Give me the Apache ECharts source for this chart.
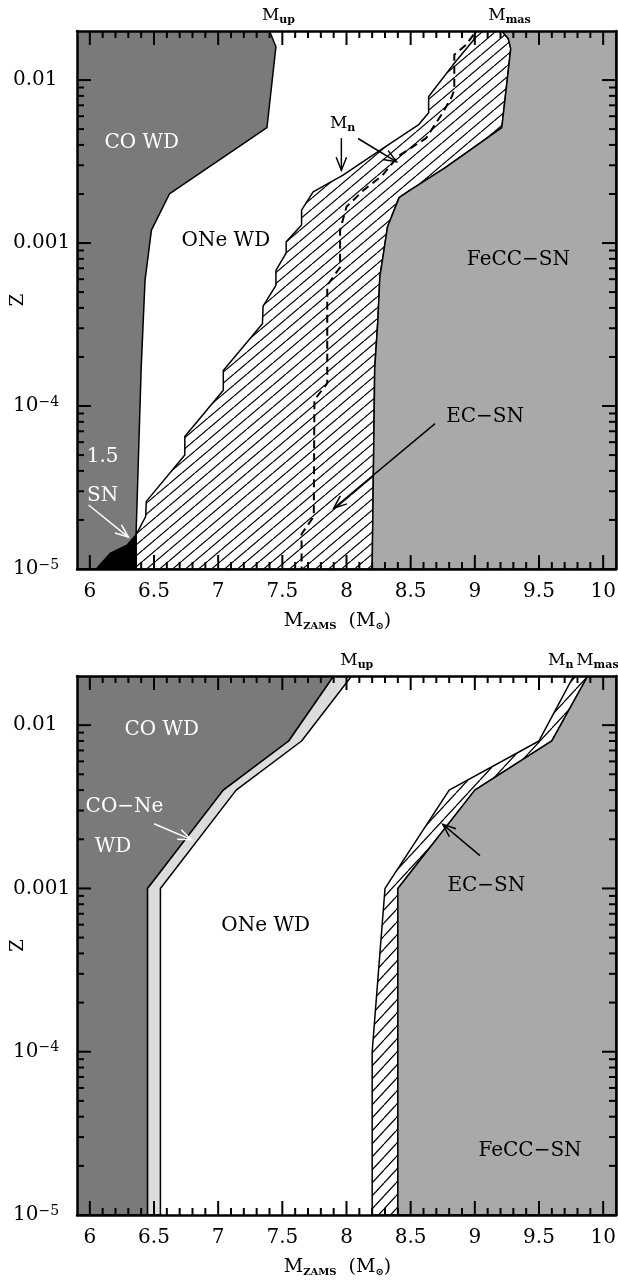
<!DOCTYPE html>
<html><head><meta charset="utf-8">
<script src="https://cdn.jsdelivr.net/npm/echarts@6/dist/echarts.min.js"></script>
<style>html,body{margin:0;padding:0;background:#fff}#c{width:618px;height:1280px}</style>
</head><body><div id="c"></div>
<script>
// ---------- axes ----------
const xMin = 5.9, xMax = 10.1, zMin = 1e-5, zMax = 0.02;
const xMajorTicks = [6, 6.5, 7, 7.5, 8, 8.5, 9, 9.5, 10];
const xMinorTicks = [6.1, 6.2, 6.3, 6.4, 6.6, 6.7, 6.8, 6.9, 7.1, 7.2, 7.3, 7.4, 7.6, 7.7, 7.8, 7.9,
  8.1, 8.2, 8.3, 8.4, 8.6, 8.7, 8.8, 8.9, 9.1, 9.2, 9.3, 9.4, 9.6, 9.7, 9.8, 9.9];
const zMajorTicks = [1e-5, 1e-4, 1e-3, 1e-2];
const zMinorTicks = [2e-5, 3e-5, 4e-5, 5e-5, 6e-5, 7e-5, 8e-5, 9e-5, 2e-4, 3e-4, 4e-4, 5e-4, 6e-4, 7e-4, 8e-4, 9e-4,
  2e-3, 3e-3, 4e-3, 5e-3, 6e-3, 7e-3, 8e-3, 9e-3];

// ---------- top panel boundaries [M_ZAMS, Z] ----------
const topMup = [[7.40, 0.02], [7.45, 0.016], [7.38, 0.0051], [6.62, 0.002], [6.48, 0.0012], [6.43, 0.00059], [6.40, 0.00017], [6.36, 1.6e-5], [6.36, 1e-5]];
const topSN15 = [[6.05, 1e-5], [6.16, 1.25e-5], [6.29, 1.4e-5], [6.36, 1.62e-5], [6.36, 1e-5]];
const topECLow = [[9.01, 0.02], [8.99, 0.0176], [8.83, 0.0124], [8.66, 0.0083], [8.64, 0.0079], [8.64, 0.0063], [8.56, 0.0053],
  [8.26, 0.0037], [7.97, 0.0026], [7.74, 0.00206], [7.65, 0.00159], [7.65, 0.00129], [7.53, 0.00102], [7.53, 0.00087],
  [7.45, 0.00068], [7.45, 0.00055], [7.35, 0.00041], [7.345, 0.00032], [7.04, 0.000165], [7.04, 0.000125],
  [6.74, 0.000065], [6.74, 0.00005], [6.44, 0.000026], [6.435, 0.000021], [6.36, 0.0000162], [6.36, 1e-5]];
const topMmas = [[9.21, 0.02], [9.26, 0.018], [9.28, 0.0156], [9.21, 0.0051], [8.77, 0.0029], [8.49, 0.0021], [8.41, 0.0019],
  [8.32, 0.00126], [8.26, 0.00062], [8.245, 0.00034], [8.22, 0.00017], [8.20, 1e-5]];
const topMn = [[8.99, 0.019], [8.93, 0.0164], [8.84, 0.0143], [8.84, 0.0087], [8.82, 0.0079], [8.75, 0.0063], [8.62, 0.0044],
  [8.40, 0.0034], [8.28, 0.0026], [8.13, 0.0021], [8.0, 0.00167], [7.95, 0.0012], [7.95, 0.00071], [7.85, 0.00055],
  [7.85, 0.000138], [7.75, 0.000109], [7.745, 0.000021], [7.65, 0.0000164], [7.65, 1e-5]];

// ---------- bottom panel boundaries ----------
const botMupLeft = [[7.90, 0.02], [7.55, 0.008], [7.04, 0.004], [6.45, 0.001], [6.45, 1e-5]];
const botMupRight = [[8.04, 0.02], [7.65, 0.008], [7.14, 0.004], [6.55, 0.001], [6.55, 1e-5]];
const botMn = [[9.77, 0.02], [9.50, 0.008], [8.80, 0.004], [8.30, 0.001], [8.20, 1e-4], [8.20, 1e-5]];
const botMmas = [[9.88, 0.02], [9.60, 0.008], [9.00, 0.004], [8.40, 0.001], [8.40, 1e-5]];

// ---------- annotations ----------
const topTexts = [
  {text: 'CO WD', x: 6.405, z: 0.0041, color: '#fff'},
  {text: 'ONe WD', x: 7.06, z: 0.00103, color: '#000'},
  {text: 'FeCC−SN', x: 9.34, z: 7.9e-4, color: '#000'},
  {text: 'EC−SN', x: 9.08, z: 8.6e-5, color: '#000'},
  {text: '{m|M}{s|n}', x: 7.97, z: 0.0054, color: '#000'},
  {text: '1.5', x: 6.10, z: 4.9e-5, color: '#fff'},
  {text: 'SN', x: 6.10, z: 2.8e-5, color: '#fff'},
  {text: '{m|M}{s|up}', x: 7.47, z: 0.02, color: '#000', dy: -15},
  {text: '{m|M}{s|mas}', x: 9.27, z: 0.02, color: '#000', dy: -15}
];
const topArrows = [
  {from: [8.69, 7.8e-5], to: [7.90, 2.36e-5], color: '#000'},
  {from: [7.96, 0.0044], to: [7.96, 0.0028], color: '#000'},
  {from: [8.09, 0.00438], to: [8.39, 0.00315], color: '#000'},
  {from: [5.99, 2.47e-5], to: [6.30, 1.57e-5], color: '#fff'}
];
const botTexts = [
  {text: 'CO WD', x: 6.56, z: 0.0094, color: '#fff'},
  {text: 'CO−Ne', x: 6.27, z: 0.00314, color: '#fff'},
  {text: 'WD', x: 6.18, z: 0.00179, color: '#fff'},
  {text: 'ONe WD', x: 7.37, z: 5.9e-4, color: '#000'},
  {text: 'EC−SN', x: 9.09, z: 0.00104, color: '#000'},
  {text: 'FeCC−SN', x: 9.43, z: 2.47e-5, color: '#000'},
  {text: '{m|M}{s|up}', x: 8.08, z: 0.02, color: '#000', dy: -15},
  {text: '{m|M}{s|n}', x: 9.67, z: 0.02, color: '#000', dy: -15},
  {text: '{m|M}{s|mas}', x: 9.955, z: 0.02, color: '#000', dy: -15}
];
const botArrows = [
  {from: [6.50, 0.00249], to: [6.79, 0.00199], color: '#fff'},
  {from: [9.04, 0.00159], to: [8.75, 0.00247], color: '#000'}
];

const FONT = '"DejaVu Serif", serif';
const DARK = '#7a7a7a', LIGHT = '#a9a9a9', STRIP = '#dcdcdc';
const TICK = '#000';

function makeHatch(w, h) {
  const c = document.createElement('canvas');
  c.width = w; c.height = h;
  const ctx = c.getContext('2d');
  ctx.strokeStyle = '#000'; ctx.lineWidth = 1.2;
  for (const dx of [-w, 0, w]) { ctx.beginPath(); ctx.moveTo(dx, h); ctx.lineTo(dx + w, 0); ctx.stroke(); }
  return c;
}
const hatchTop = {image: makeHatch(13, 11), repeat: 'repeat'};
const hatchBot = {image: makeHatch(12, 13), repeat: 'repeat'};

const RICH = {
  m: {fontFamily: FONT, fontSize: 17},
  s: {fontFamily: FONT, fontSize: 11, fontWeight: 'bold', verticalAlign: 'bottom', padding: [8, 0, 0, 0]}
};

function axesFor(gi) {
  const base = {gridIndex: gi, z: 10, splitLine: {show: false}, axisTick: {show: false}};
  const line = {show: true, onZero: false, lineStyle: {color: '#000', width: 2.5}};
  const xb = {...base, type: 'value', min: xMin, max: xMax, axisLine: line};
  const yb = {...base, type: 'log', logBase: 10, min: zMin, max: zMax, axisLine: line};
  const xs = [
    {...xb, position: 'bottom',
      axisLabel: {show: true, customValues: xMajorTicks, margin: 13, color: '#000', fontFamily: FONT, fontSize: 20,
        formatter: v => String(+(+v).toFixed(1))},
      name: '{m|M}{s|ZAMS}{m|  (M}{s|⊙}{m|)}', nameLocation: 'middle', nameGap: 43, nameMoveOverlap: false,
      nameTextStyle: {color: '#000', padding: [0, 18, 0, 0], rich: {m: {fontFamily: FONT, fontSize: 19, color: '#000'},
        s: {fontFamily: FONT, fontSize: 10, fontWeight: 'bold', color: '#000', verticalAlign: 'bottom', padding: [9, 0, 0, 0]}}}},
    {...xb, position: 'top', axisLabel: {show: false}}
  ];
  const ys = [
    {...yb, position: 'left',
      axisLabel: {show: true, customValues: zMajorTicks, margin: 64, align: 'left', color: '#000', fontFamily: FONT, fontSize: 20,
        formatter: v => {
          const e = Math.round(Math.log10(v));
          if (e === -2) return '0.01';
          if (e === -3) return '0.001';
          return '10{sup|−' + (-e) + '}';
        },
        rich: {sup: {fontFamily: FONT, fontSize: 14, color: '#000', verticalAlign: 'top', padding: [0, 0, 8, 0]}}},
      name: 'Z', nameLocation: 'middle', nameGap: 50, nameRotate: 90, nameMoveOverlap: false,
      nameTextStyle: {color: '#000', fontFamily: FONT, fontSize: 18}},
    {...yb, position: 'right', axisLabel: {show: false}}
  ];
  return {xs, ys};
}

function polySeries(gi, pts, fill) {
  return {type: 'custom', xAxisIndex: gi * 2, yAxisIndex: gi * 2, data: pts, clip: true, silent: true, z: 2,
    renderItem: (params, api) => {
      if (params.dataIndex !== 0) return;
      return {type: 'polygon', shape: {points: pts.map(p => api.coord(p))},
        style: {fill: fill, stroke: '#000', lineWidth: 1.5, lineJoin: 'round'}};
    }};
}
function lineSeries(gi, pts, dash) {
  return {type: 'custom', xAxisIndex: gi * 2, yAxisIndex: gi * 2, data: pts, clip: true, silent: true, z: 3,
    renderItem: (params, api) => {
      if (params.dataIndex !== 0) return;
      return {type: 'polyline', shape: {points: pts.map(p => api.coord(p))},
        style: {fill: null, stroke: '#000', lineWidth: 2, lineDash: dash}};
    }};
}
// inward ticks on all four sides, positioned through the axes' scales
function tickSeries(gi) {
  return {type: 'custom', xAxisIndex: gi * 2, yAxisIndex: gi * 2, data: [[7, 0.001]], silent: true, z: 12,
    renderItem: (params, api) => {
      const children = [];
      const add = (x1, y1, x2, y2) => children.push({type: 'line', shape: {x1: x1, y1: y1, x2: x2, y2: y2},
        style: {stroke: TICK, lineWidth: 2, fill: null}});
      const xt = (vals, len) => vals.forEach(v => {
        const b = api.coord([v, zMin]), t = api.coord([v, zMax]);
        add(b[0], b[1], b[0], b[1] - len);
        add(t[0], t[1], t[0], t[1] + len);
      });
      const yt = (vals, len) => vals.forEach(v => {
        const l = api.coord([xMin, v]), r = api.coord([xMax, v]);
        add(l[0], l[1], l[0] + len, l[1]);
        add(r[0], r[1], r[0] - len, r[1]);
      });
      xt(xMajorTicks, 14); xt(xMinorTicks, 7);
      yt(zMajorTicks, 14); yt(zMinorTicks, 7);
      return {type: 'group', children: children};
    }};
}
function textSeries(gi, items) {
  return {type: 'custom', xAxisIndex: gi * 2, yAxisIndex: gi * 2, data: items.map(t => [t.x, t.z]), silent: true, z: 12,
    renderItem: (params, api) => {
      const t = items[params.dataIndex];
      const p = api.coord([t.x, t.z]);
      const rich = {m: {...RICH.m, fill: t.color}, s: {...RICH.s, fill: t.color}};
      return {type: 'text', x: p[0], y: p[1] + (t.dy || 0),
        style: {text: t.text, fill: t.color, fontFamily: FONT, fontSize: 20, align: 'center', verticalAlign: 'middle', rich: rich}};
    }};
}
function arrowSeries(gi, items) {
  return {type: 'custom', xAxisIndex: gi * 2, yAxisIndex: gi * 2, data: items.map(a => a.from), silent: true, z: 12,
    renderItem: (params, api) => {
      const a = items[params.dataIndex];
      const p0 = api.coord(a.from), p1 = api.coord(a.to);
      const ang = Math.atan2(p1[1] - p0[1], p1[0] - p0[0]);
      const L = 14, da = 0.38;
      const h1 = [p1[0] - L * Math.cos(ang - da), p1[1] - L * Math.sin(ang - da)];
      const h2 = [p1[0] - L * Math.cos(ang + da), p1[1] - L * Math.sin(ang + da)];
      const st = {stroke: a.color, lineWidth: 1.5, fill: null};
      return {type: 'group', children: [
        {type: 'line', shape: {x1: p0[0], y1: p0[1], x2: p1[0], y2: p1[1]}, style: st},
        {type: 'polyline', shape: {points: [h1, p1, h2]}, style: st}
      ]};
    }};
}

const a0 = axesFor(0), a1 = axesFor(1);
const rev = arr => arr.slice().reverse();

const option = {
  animation: false,
  backgroundColor: '#fff',
  grid: [
    {left: 77, top: 31, width: 539, height: 538, outerBoundsMode: 'none', containLabel: false},
    {left: 77, top: 676, width: 539, height: 539, outerBoundsMode: 'none', containLabel: false}
  ],
  xAxis: [...a0.xs, ...a1.xs],
  yAxis: [...a0.ys, ...a1.ys],
  series: [
    // top panel
    polySeries(0, [[xMin, zMin], [xMin, zMax], ...topMup], DARK),
    polySeries(0, topSN15, '#000'),
    polySeries(0, [...topECLow, ...rev(topMmas)], hatchTop),
    polySeries(0, [...topMmas, [xMax, zMin], [xMax, zMax]], LIGHT),
    lineSeries(0, topMn, [8, 5]),
    textSeries(0, topTexts),
    arrowSeries(0, topArrows),
    tickSeries(0),
    // bottom panel
    polySeries(1, [[xMin, zMin], [xMin, zMax], ...botMupLeft], DARK),
    polySeries(1, [...botMupLeft, ...rev(botMupRight)], STRIP),
    polySeries(1, [...botMn, ...rev(botMmas)], hatchBot),
    polySeries(1, [...botMmas, [xMax, zMin], [xMax, zMax]], LIGHT),
    textSeries(1, botTexts),
    arrowSeries(1, botArrows),
    tickSeries(1)
  ]
};
const chart = echarts.init(document.getElementById('c'), null, {renderer: 'canvas'});
chart.setOption(option);
</script>
</body></html>
